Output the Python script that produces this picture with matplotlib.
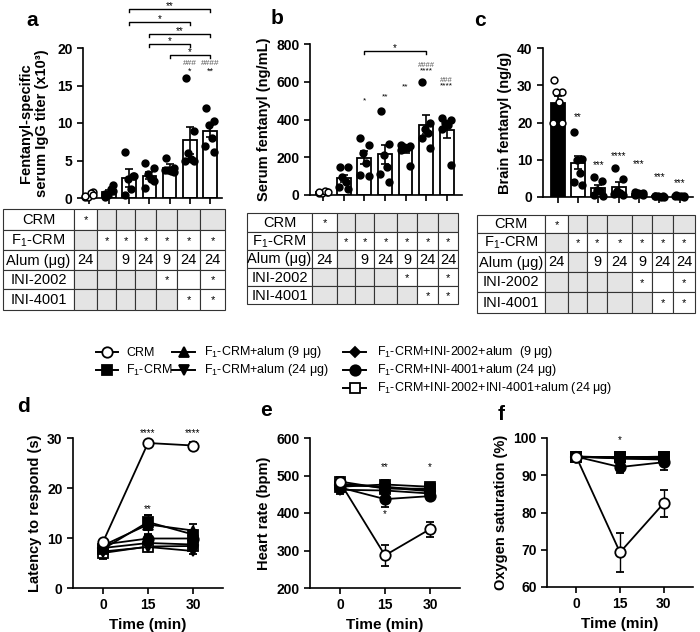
import numpy as np
import matplotlib
matplotlib.use("Agg")
import matplotlib.pyplot as plt
from matplotlib.patches import Rectangle

plt.rcParams['font.family'] = ['Liberation Sans', 'DejaVu Sans']
plt.rcParams['mathtext.fontset'] = 'custom'
plt.rcParams['mathtext.rm'] = 'Liberation Sans'
plt.rcParams['mathtext.bf'] = 'Liberation Sans:bold'

W, H = 700, 632

# ---------------- data: bar panels ----------------
titer_mean = [0.4, 0.8, 2.7, 3.0, 4.0, 7.7, 9.0]
titer_sem = [0.1, 0.25, 1.2, 0.5, 0.5, 1.8, 0.8]
titer_pts = [[0.1, 0.8, 0.2, 0.7, 0.3, 0.4],
             [0.2, 1.7, 0.4, 1.2, 0.6, 0.9],
             [6.2, 2.9, 2.5, 1.2, 0.4, 3.0],
             [4.7, 4.0, 3.2, 2.5, 1.3, 2.3],
             [5.4, 4.0, 3.8, 3.6, 3.7, 3.5],
             [16.0, 9.0, 6.0, 5.2, 5.0, 5.0],
             [12.0, 10.3, 9.8, 8.0, 7.0, 6.1]]
titer_star = ["", "", "", "", "", "*", "**"]
titer_hash = ["", "", "", "", "", "###", "####"]
titer_brackets = [(2, 6, "**", 25.2), (2, 5, "*", 23.5), (3, 6, "**", 21.9),
                  (3, 5, "*", 20.5), (4, 6, "*", 19.1)]

serum_mean = [15, 88, 197, 215, 240, 373, 345]
serum_sem = [2, 20, 35, 50, 15, 50, 45]
serum_pts = [[10, 18, 12, 20, 15, 14],
             [150, 148, 95, 70, 40, 30],
             [300, 265, 220, 170, 105, 100],
             [447, 270, 210, 150, 110, 70],
             [265, 260, 255, 250, 240, 155],
             [600, 380, 350, 330, 300, 250],
             [410, 395, 380, 370, 350, 160]]
serum_star = ["", "", "*", "**", "**", "****", "****"]
serum_star_y = [0, 0, 500, 520, 572, 660, 578]
serum_hash = ["", "", "", "", "", "####", "###"]
serum_brackets = [(2, 5, "*", 765)]

brain_mean = [25.2, 9.2, 2.4, 2.8, 0.9, 0.2, 0.3]
brain_sem = [1.8, 1.8, 0.8, 1.2, 0.15, 0.05, 0.1]
brain_pts = [[31.5, 28.3, 28.3, 25.5, 20.0, 20.0],
             [17.5, 10.3, 10.0, 6.5, 4.0, 3.3],
             [5.5, 4.3, 2.0, 1.5, 0.5, 0.3],
             [7.8, 4.7, 1.5, 1.0, 0.8, 0.5],
             [1.3, 1.0, 1.1, 0.8, 0.6, 0.5],
             [0.3, 0.2, 0.2, 0.1, 0.2, 0.1],
             [0.6, 0.4, 0.3, 0.2, 0.2, 0.1]]
brain_star = ["", "**", "***", "****", "***", "***", "***"]
brain_star_y = [0, 21.4, 8.6, 11.0, 8.8, 5.4, 3.8]

# ---------------- data: tables ----------------
table_rows = ["CRM", "F$_1$-CRM", "Alum (\u03bcg)", "INI-2002", "INI-4001"]
table_cells = [["*", "", "", "", "", "", ""],
               ["", "*", "*", "*", "*", "*", "*"],
               ["24", "", "9", "24", "9", "24", "24"],
               ["", "", "", "", "*", "", "*"],
               ["", "", "", "", "", "*", "*"]]
table_gray = [[0, 1, 1, 1, 1, 1, 1],
              [1, 0, 0, 0, 0, 0, 0],
              [0, 1, 0, 0, 0, 0, 0],
              [1, 1, 1, 1, 0, 0, 0],
              [1, 1, 1, 1, 1, 0, 0]]

# ---------------- data: time courses ----------------
times = [0, 15, 30]
series_names = ["CRM", "F$_1$-CRM", "F$_1$-CRM+alum (9 \u03bcg)", "F$_1$-CRM+alum (24 \u03bcg)",
                "F$_1$-CRM+INI-2002+alum  (9 \u03bcg)", "F$_1$-CRM+INI-4001+alum (24 \u03bcg)",
                "F$_1$-CRM+INI-2002+INI-4001+alum (24 \u03bcg)"]
latency = [[9.2, 29.0, 28.5], [7.8, 13.2, 10.7], [8.5, 12.7, 11.5], [7.3, 8.2, 7.4],
           [8.0, 9.0, 8.7], [8.7, 9.9, 9.9], [7.0, 8.3, 8.4]]
latency_err = [[0.5, 0.3, 0.8], [0.8, 1.5, 1.0], [1.0, 2.0, 1.3], [0.8, 0.6, 0.6],
               [0.8, 0.8, 0.8], [0.7, 1.0, 1.0], [1.2, 0.6, 0.6]]
heart = [[482, 287, 357], [470, 476, 470], [478, 468, 458], [462, 460, 452],
         [475, 470, 460], [468, 437, 445], [484, 465, 465]]
heart_err = [[15, 28, 20], [10, 12, 8], [10, 10, 8], [10, 10, 8],
             [8, 10, 8], [10, 20, 10], [10, 8, 6]]
oxygen = [[95, 69.3, 82.5], [95, 95, 95], [95, 94.5, 94.5], [95, 94.8, 94.8],
          [95, 94.5, 94.2], [95, 92.2, 93.5], [95, 94.8, 95]]
oxygen_err = [[0.5, 5.2, 3.6], [0.3, 0.5, 0.5], [0.3, 0.6, 0.6], [0.3, 0.5, 0.5],
              [0.3, 0.6, 0.8], [0.3, 1.6, 2.0], [0.3, 0.5, 0.4]]
latency_marks = [(15, 31.0, "****"), (30, 31.0, "****"), (15, 15.8, "**")]
heart_marks = [(15, 523, "**"), (30, 523, "*"), (15, 398, "*")]
oxygen_marks = [(15, 99.5, "*")]

markers = ['o', 's', '^', 'v', 'D', 'o', 's']
mfaces = ['white', 'black', 'black', 'black', 'black', 'black', 'white']
msizes = [7.5, 6.5, 7.5, 7.5, 5.5, 7.5, 7.5]

jitter = np.array([-0.2, 0.2, -0.07, 0.08, -0.22, 0.21])

fig = plt.figure(figsize=(W / 100, H / 100), dpi=100)


def px_axes(l, t, r, b):
    return fig.add_axes([l / W, 1 - b / H, (r - l) / W, (b - t) / H])


def style_axes(ax):
    for s in ['top', 'right']:
        ax.spines[s].set_visible(False)
    for s in ['left', 'bottom']:
        ax.spines[s].set_linewidth(1.2)
    ax.tick_params(width=1.2, length=4, labelsize=10)
    for lab in ax.get_yticklabels() + ax.get_xticklabels():
        lab.set_fontweight('bold')


def bar_panel(ax, means, sems, pts, first_black, ylim, yticks, xlim):
    x = np.arange(len(means))
    fcs = ['black' if (first_black and i == 0) else 'white' for i in x]
    ax.bar(x, means, width=0.68, color=fcs, edgecolor='black', linewidth=1.3, zorder=2)
    ax.errorbar(x, means, yerr=sems, fmt='none', ecolor='black', elinewidth=1.2,
                capsize=3, capthick=1.2, zorder=3)
    for i, p in enumerate(pts):
        fc = 'white' if i == 0 else 'black'
        ax.scatter(x[i] + jitter[:len(p)], p, s=24, facecolor=fc, edgecolor='black',
                   linewidth=1.1, zorder=4, clip_on=False)
    ax.set_xlim(*xlim)
    ax.set_ylim(*ylim)
    ax.set_yticks(yticks)
    ax.set_xticks(x)
    ax.set_xticklabels([])
    style_axes(ax)


def bracket(ax, i, j, label, y, h):
    ax.plot([i, i, j, j], [y - h, y, y, y - h], color='black', lw=1.0, clip_on=False)
    ax.text((i + j) / 2, y + h * 0.9, label, ha='center', va='center', fontsize=7, clip_on=False)


# ---- panel a ----
ax_a = px_axes(83, 48, 222, 198)
bar_panel(ax_a, titer_mean, titer_sem, titer_pts, False, (0, 20), [0, 5, 10, 15, 20], (-0.3, 6.6))
ax_a.set_ylabel("Fentanyl-specific\nserum IgG titer (x10\u00b3)", fontsize=10.5, fontweight='bold',
                labelpad=6)
for i in range(7):
    if titer_star[i]:
        ax_a.text(i, 16.9, titer_star[i], ha='center', va='center', fontsize=6.5)
        ax_a.text(i, 17.9, titer_hash[i], ha='center', va='center', fontsize=6, color='#555555')
for i, j, lab, y in titer_brackets:
    bracket(ax_a, i, j, lab, y, 0.4)

# ---- panel b ----
ax_b = px_axes(310, 44, 462, 195)
bar_panel(ax_b, serum_mean, serum_sem, serum_pts, False, (0, 800), [0, 200, 400, 600, 800],
          (-0.65, 6.75))
ax_b.set_ylabel("Serum fentanyl (ng/mL)", fontsize=10.5, fontweight='bold', labelpad=4)
for i in range(7):
    if serum_star[i]:
        ax_b.text(i, serum_star_y[i], serum_star[i], ha='center', va='center', fontsize=6)
    if serum_hash[i]:
        ax_b.text(i, serum_star_y[i] + 28, serum_hash[i], ha='center', va='center', fontsize=5.5,
                  color='#555555')
for i, j, lab, y in serum_brackets:
    bracket(ax_b, i, j, lab, y, 16)

# ---- panel c ----
ax_c = px_axes(543, 48, 693, 197)
bar_panel(ax_c, brain_mean, brain_sem, brain_pts, True, (0, 40), [0, 10, 20, 30, 40], (-0.72, 6.65))
ax_c.set_ylabel("Brain fentanyl (ng/g)", fontsize=10.5, fontweight='bold', labelpad=4)
for i in range(7):
    if brain_star[i]:
        ax_c.text(i, brain_star_y[i], brain_star[i], ha='center', va='center', fontsize=7)


# ---- time course panels ----
def line_panel(ax, data, errs, ylim, yticks, ylabel, marks):
    for k in range(len(data) - 1, -1, -1):
        ax.errorbar(times, data[k], yerr=errs[k], color='black', lw=1.3, marker=markers[k],
                    ms=msizes[k], mfc=mfaces[k], mec='black', mew=1.3, capsize=3,
                    elinewidth=1.0, capthick=1.0, zorder=3 + (k == 0) * 5, clip_on=False)
    ax.set_xlim(-10, 40)
    ax.set_ylim(*ylim)
    ax.set_yticks(yticks)
    ax.set_xticks(times)
    ax.set_xlabel("Time (min)", fontsize=11, fontweight='bold', labelpad=4)
    ax.set_ylabel(ylabel, fontsize=10.5, fontweight='bold', labelpad=4)
    for x, y, lab in marks:
        ax.text(x, y, lab, ha='center', va='center', fontsize=7, clip_on=False)
    style_axes(ax)


ax_d = px_axes(73, 438, 223, 588)
line_panel(ax_d, latency, latency_err, (0, 30), [0, 10, 20, 30], "Latency to respond (s)", latency_marks)
ax_e = px_axes(310, 438, 460, 588)
line_panel(ax_e, heart, heart_err, (200, 600), [200, 300, 400, 500, 600], "Heart rate (bpm)", heart_marks)
ax_f = px_axes(547, 438, 693, 587)
line_panel(ax_f, oxygen, oxygen_err, (60, 100), [60, 70, 80, 90, 100], "Oxygen saturation (%)",
           oxygen_marks)

# ---- overlay in pixel coordinates: tables, legend, letters ----
ov = fig.add_axes([0, 0, 1, 1], zorder=10)
ov.set_xlim(0, W)
ov.set_ylim(H, 0)
ov.axis('off')
ov.patch.set_alpha(0)


def draw_table(xs, ys):
    for r in range(5):
        ov.add_patch(Rectangle((xs[0], ys[r]), xs[1] - xs[0], ys[r + 1] - ys[r], fc='white',
                               ec='#333333', lw=0.8))
        ov.text((xs[0] + xs[1]) / 2, (ys[r] + ys[r + 1]) / 2 + 0.5, table_rows[r], ha='center',
                va='center', fontsize=10.5)
        for c in range(7):
            fc = '#e4e4e4' if table_gray[r][c] else 'white'
            ov.add_patch(Rectangle((xs[c + 1], ys[r]), xs[c + 2] - xs[c + 1], ys[r + 1] - ys[r],
                                   fc=fc, ec='#333333', lw=0.8))
            t = table_cells[r][c]
            if t == '*':
                ov.text((xs[c + 1] + xs[c + 2]) / 2, (ys[r] + ys[r + 1]) / 2 + 1, t, ha='center',
                        va='center', fontsize=8)
            elif t:
                ov.text((xs[c + 1] + xs[c + 2]) / 2, (ys[r] + ys[r + 1]) / 2 + 0.5, t, ha='center',
                        va='center', fontsize=10.5)


draw_table([3, 74, 97, 116, 135, 156, 177, 200, 225], [209, 230, 250, 270, 289, 310])
draw_table([247, 312, 337, 355, 374, 397, 417, 438, 458], [213, 232, 250, 268, 286, 304])
draw_table([477, 545, 568, 587, 607, 632, 652, 673, 695], [215, 233, 252, 272, 292, 313])

leg_pos = [(96, 118, 126, 352), (96, 118, 126, 370),
           (172, 195, 204, 352), (172, 195, 204, 370),
           (343, 366, 377, 352), (343, 366, 377, 370), (343, 366, 377, 388)]
for k, (x0, x1, xt, y) in enumerate(leg_pos):
    ov.plot([x0, x1], [y, y], color='black', lw=1.4)
    ov.plot([(x0 + x1) / 2], [y], marker=markers[k], ms=msizes[k], mfc=mfaces[k], mec='black', mew=1.3)
    ov.text(xt, y + 0.5, series_names[k], ha='left', va='center', fontsize=9)

for lab, x, y in [("a", 32, 20), ("b", 277, 19), ("c", 480, 20),
                  ("d", 23, 407), ("e", 266, 411), ("f", 501, 414)]:
    ov.text(x, y, lab, ha='center', va='center', fontsize=15, fontweight='bold')

fig.savefig("out.png", dpi=100)
